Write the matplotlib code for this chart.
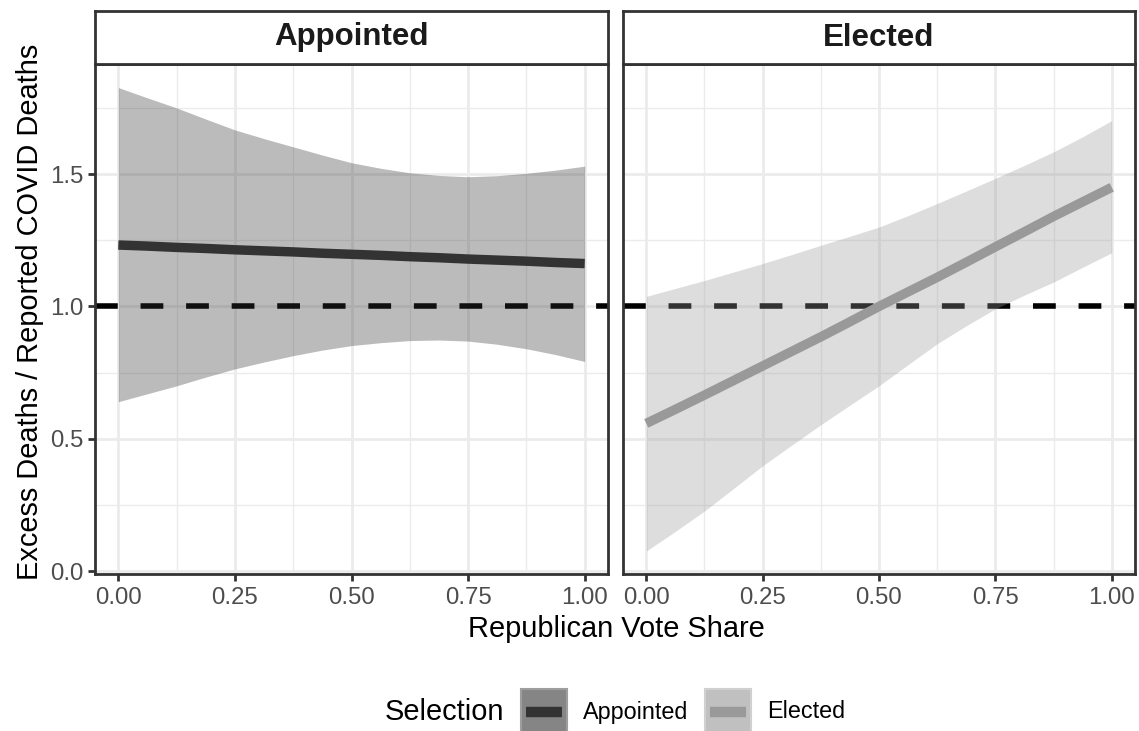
import numpy as np
import matplotlib
matplotlib.use('Agg')
import matplotlib.pyplot as plt
from matplotlib.patches import Rectangle
from matplotlib.lines import Line2D

plt.rcParams['font.family'] = ['Liberation Sans', 'DejaVu Sans']

# data
vote_share = [0.0, 0.0625, 0.125, 0.1875, 0.25, 0.3125, 0.375, 0.4375, 0.5,
              0.5625, 0.625, 0.6875, 0.75, 0.8125, 0.875, 0.9375, 1.0]

appointed_fit = [1.232, 1.228, 1.223, 1.219, 1.214, 1.210, 1.206, 1.201, 1.197,
                 1.193, 1.188, 1.184, 1.179, 1.175, 1.171, 1.166, 1.162]
appointed_upper = [1.827, 1.788, 1.750, 1.708, 1.667, 1.634, 1.603, 1.572, 1.543,
                   1.522, 1.505, 1.495, 1.490, 1.494, 1.503, 1.515, 1.530]
appointed_lower = [0.640, 0.670, 0.700, 0.733, 0.764, 0.790, 0.814, 0.835, 0.852,
                   0.863, 0.871, 0.873, 0.869, 0.857, 0.840, 0.818, 0.792]

elected_fit = [0.558, 0.611, 0.665, 0.720, 0.775, 0.830, 0.885, 0.942, 1.000,
               1.055, 1.110, 1.167, 1.225, 1.282, 1.340, 1.395, 1.450]
elected_upper = [1.038, 1.068, 1.098, 1.130, 1.162, 1.196, 1.231, 1.265, 1.300,
                 1.343, 1.389, 1.436, 1.484, 1.533, 1.584, 1.641, 1.702]
elected_lower = [0.076, 0.150, 0.227, 0.312, 0.398, 0.476, 0.553, 0.627, 0.700,
                 0.780, 0.859, 0.927, 0.991, 1.043, 1.092, 1.148, 1.203]

panels = ['Appointed', 'Elected']
line_colors = {'Appointed': '#333333', 'Elected': '#999999'}
key_colors = {'Appointed': '#858585', 'Elected': '#C0C0C0'}
series = {'Appointed': (appointed_fit, appointed_lower, appointed_upper),
          'Elected': (elected_fit, elected_lower, elected_upper)}

x_ticks = [0.0, 0.25, 0.5, 0.75, 1.0]
x_ticklabels = ['0.00', '0.25', '0.50', '0.75', '1.00']
y_ticks = [0.0, 0.5, 1.0, 1.5]
y_ticklabels = ['0.0', '0.5', '1.0', '1.5']
reference_line = 1.0

W, H = 1139, 731
fig = plt.figure(figsize=(W / 100, H / 100), dpi=100)

def px_axes(x0, y0, x1, y1):
    # pixel box (top-left origin) -> figure axes
    return fig.add_axes([x0 / W, 1 - y1 / H, (x1 - x0) / W, (y1 - y0) / H])

panel_x = [(95, 608), (623, 1135)]
strip_top, panel_top, panel_bot = 11, 64, 574

for i, name in enumerate(panels):
    x0, x1 = panel_x[i]
    ax = px_axes(x0, panel_top, x1, panel_bot)
    ax.set_xlim(-0.05, 1.05)
    ax.set_ylim(-0.011, 1.916)

    ax.set_xticks(x_ticks)
    ax.set_xticks([0.125, 0.375, 0.625, 0.875], minor=True)
    ax.set_yticks(y_ticks)
    ax.set_yticks([0.25, 0.75, 1.25, 1.75], minor=True)
    ax.grid(which='major', color='#EBEBEB', lw=2.0)
    ax.grid(which='minor', color='#EBEBEB', lw=1.0)
    ax.set_axisbelow(True)

    ax.set_xticklabels(x_ticklabels)
    if i == 0:
        ax.set_yticklabels(y_ticklabels)
    else:
        ax.tick_params(axis='y', left=False, labelleft=False)
    ax.tick_params(axis='both', which='major', length=5, width=2, color='#333333',
                   labelsize=17.3, labelcolor='#4D4D4D')
    ax.tick_params(axis='x', pad=4)
    ax.tick_params(axis='y', pad=3)
    ax.tick_params(which='minor', length=0)
    for s in ax.spines.values():
        s.set_color('#333333')
        s.set_linewidth(2)

    fit, lower, upper = series[name]
    ax.axhline(reference_line, color='black', lw=4, linestyle=(0, (4.1, 4.1)), zorder=2)
    ax.fill_between(vote_share, lower, upper, color=line_colors[name], alpha=0.33,
                    lw=0, zorder=3)
    ax.plot(vote_share, fit, color=line_colors[name], lw=6.8, solid_capstyle='butt',
            zorder=4)

    # facet strip
    st = px_axes(x0, strip_top, x1, panel_top)
    st.set_xticks([])
    st.set_yticks([])
    for s in st.spines.values():
        s.set_color('#333333')
        s.set_linewidth(2)
    st.text(0.5, 0.5, name, ha='center', va='center', fontsize=22.5,
            fontweight='bold', color='#1A1A1A', transform=st.transAxes)

fig.text(616 / W, 1 - 629 / H, 'Republican Vote Share', ha='center', va='center',
         fontsize=20.9, color='black')
fig.text(30 / W, 1 - 312 / H, 'Excess Deaths / Reported COVID Deaths', ha='center',
         va='center', rotation=90, fontsize=20.9, color='black')

# legend at the bottom
fig.text(385 / W, 1 - 712 / H, 'Selection', ha='left', va='center', fontsize=20.9)
key_x = {'Appointed': 521, 'Elected': 705}
for name in panels:
    kx = key_x[name]
    fig.patches.append(Rectangle((kx / W, 1 - 735 / H), 46 / W, 46 / H,
                                 transform=fig.transFigure, facecolor=key_colors[name],
                                 edgecolor='#9E9E9E' if name == 'Appointed' else '#D0D0D0',
                                 lw=1.5))
    fig.lines.append(Line2D([(kx + 5) / W, (kx + 41) / W], [1 - 711.5 / H, 1 - 711.5 / H],
                            transform=fig.transFigure, color=line_colors[name], lw=7.5,
                            solid_capstyle='butt'))
    fig.text((kx + 62) / W, 1 - 712 / H, name, ha='left', va='center', fontsize=16.8)

fig.savefig('out.png', dpi=100)
